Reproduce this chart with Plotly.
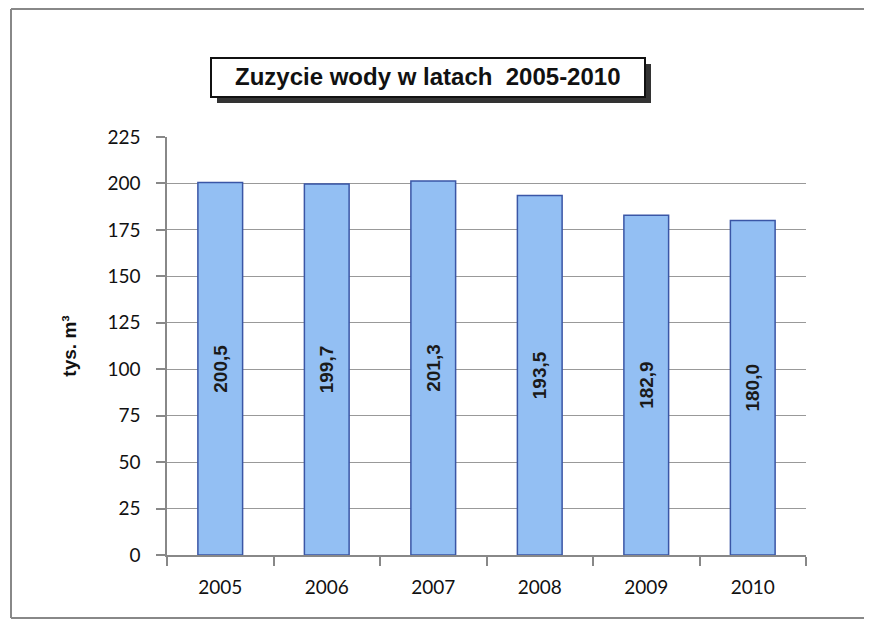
import plotly.graph_objects as go

years = ["2005", "2006", "2007", "2008", "2009", "2010"]
usage = [200.5, 199.7, 201.3, 193.5, 182.9, 180.0]
y_ticks = [0, 25, 50, 75, 100, 125, 150, 175, 200, 225]
title_text = "Zuzycie wody w latach  2005-2010"
y_title = "tys. m³"

OFF = 8  # page body offset
W, H = 872 - OFF, 620 - OFF
L, T = 167 - OFF, 137 - OFF
pw, ph = 639, 418
R, B = W - L - pw, H - T - ph

def px(x):
    return (x - OFF - L) / pw

def py(y):
    return (T + ph - (y - OFF)) / ph

fig = go.Figure()
fig.add_trace(go.Bar(
    x=years, y=usage,
    marker=dict(color="#93BFF3", line=dict(color="#3A56A6", width=1.5)),
    width=0.42,
    texttemplate="%{y:.1f}",
    textposition="inside",
    insidetextanchor="middle",
    textangle=-90,
    textfont=dict(family="Liberation Sans, Arial", size=19, color="#1a1a1a", weight="bold"),
    hoverinfo="skip",
))

fig.update_layout(
    width=W, height=H,
    margin=dict(l=L, r=R, t=T, b=B),
    paper_bgcolor="white", plot_bgcolor="white",
    separators=",.",
    showlegend=False,
    xaxis=dict(
        type="category",
        showline=True, linecolor="#888", linewidth=1.5,
        ticks="outside", tickson="boundaries", ticklen=9, tickcolor="#888", tickwidth=1.5,
        tickfont=dict(family="Lato, Open Sans, sans-serif", size=19, color="#111"),
        ticklabelstandoff=14,
        showgrid=False,
    ),
    yaxis=dict(
        range=[0, 225], tickvals=y_ticks,
        showline=True, linecolor="#888", linewidth=1.5,
        ticks="outside", ticklen=9, tickcolor="#888", tickwidth=1.5,
        showgrid=True, gridcolor="#999", gridwidth=1.2,
        tickfont=dict(family="Lato, Open Sans, sans-serif", size=19, color="#111"),
        ticklabelstandoff=12,
        zeroline=False,
        title=dict(text=y_title, font=dict(family="Liberation Sans, Arial", size=19, color="#111", weight="bold"), standoff=26),
    ),
)

# outer frame (top, left, bottom edges)
frame = dict(color="#888", width=2)
fig.add_shape(type="line", xref="paper", yref="paper", x0=px(11), x1=px(900), y0=py(9), y1=py(9), line=frame, layer="below")
fig.add_shape(type="line", xref="paper", yref="paper", x0=px(11), x1=px(11), y0=py(9), y1=py(618), line=frame, layer="below")
fig.add_shape(type="line", xref="paper", yref="paper", x0=px(11), x1=px(900), y0=py(618), y1=py(618), line=frame, layer="below")
# title shadow
fig.add_shape(type="rect", xref="paper", yref="paper",
              x0=px(217), x1=px(651), y0=py(103), y1=py(64),
              line=dict(width=0), fillcolor="#333")
# title box
fig.add_shape(type="rect", xref="paper", yref="paper",
              x0=px(211), x1=px(645), y0=py(97), y1=py(58),
              line=dict(color="#111", width=2), fillcolor="white")
fig.add_annotation(xref="paper", yref="paper", x=px(428), y=py(77),
                   text=title_text, showarrow=False, xanchor="center", yanchor="middle",
                   font=dict(family="Liberation Sans, Arial", size=24, color="#111", weight="bold"))

fig.write_html("out.html")
